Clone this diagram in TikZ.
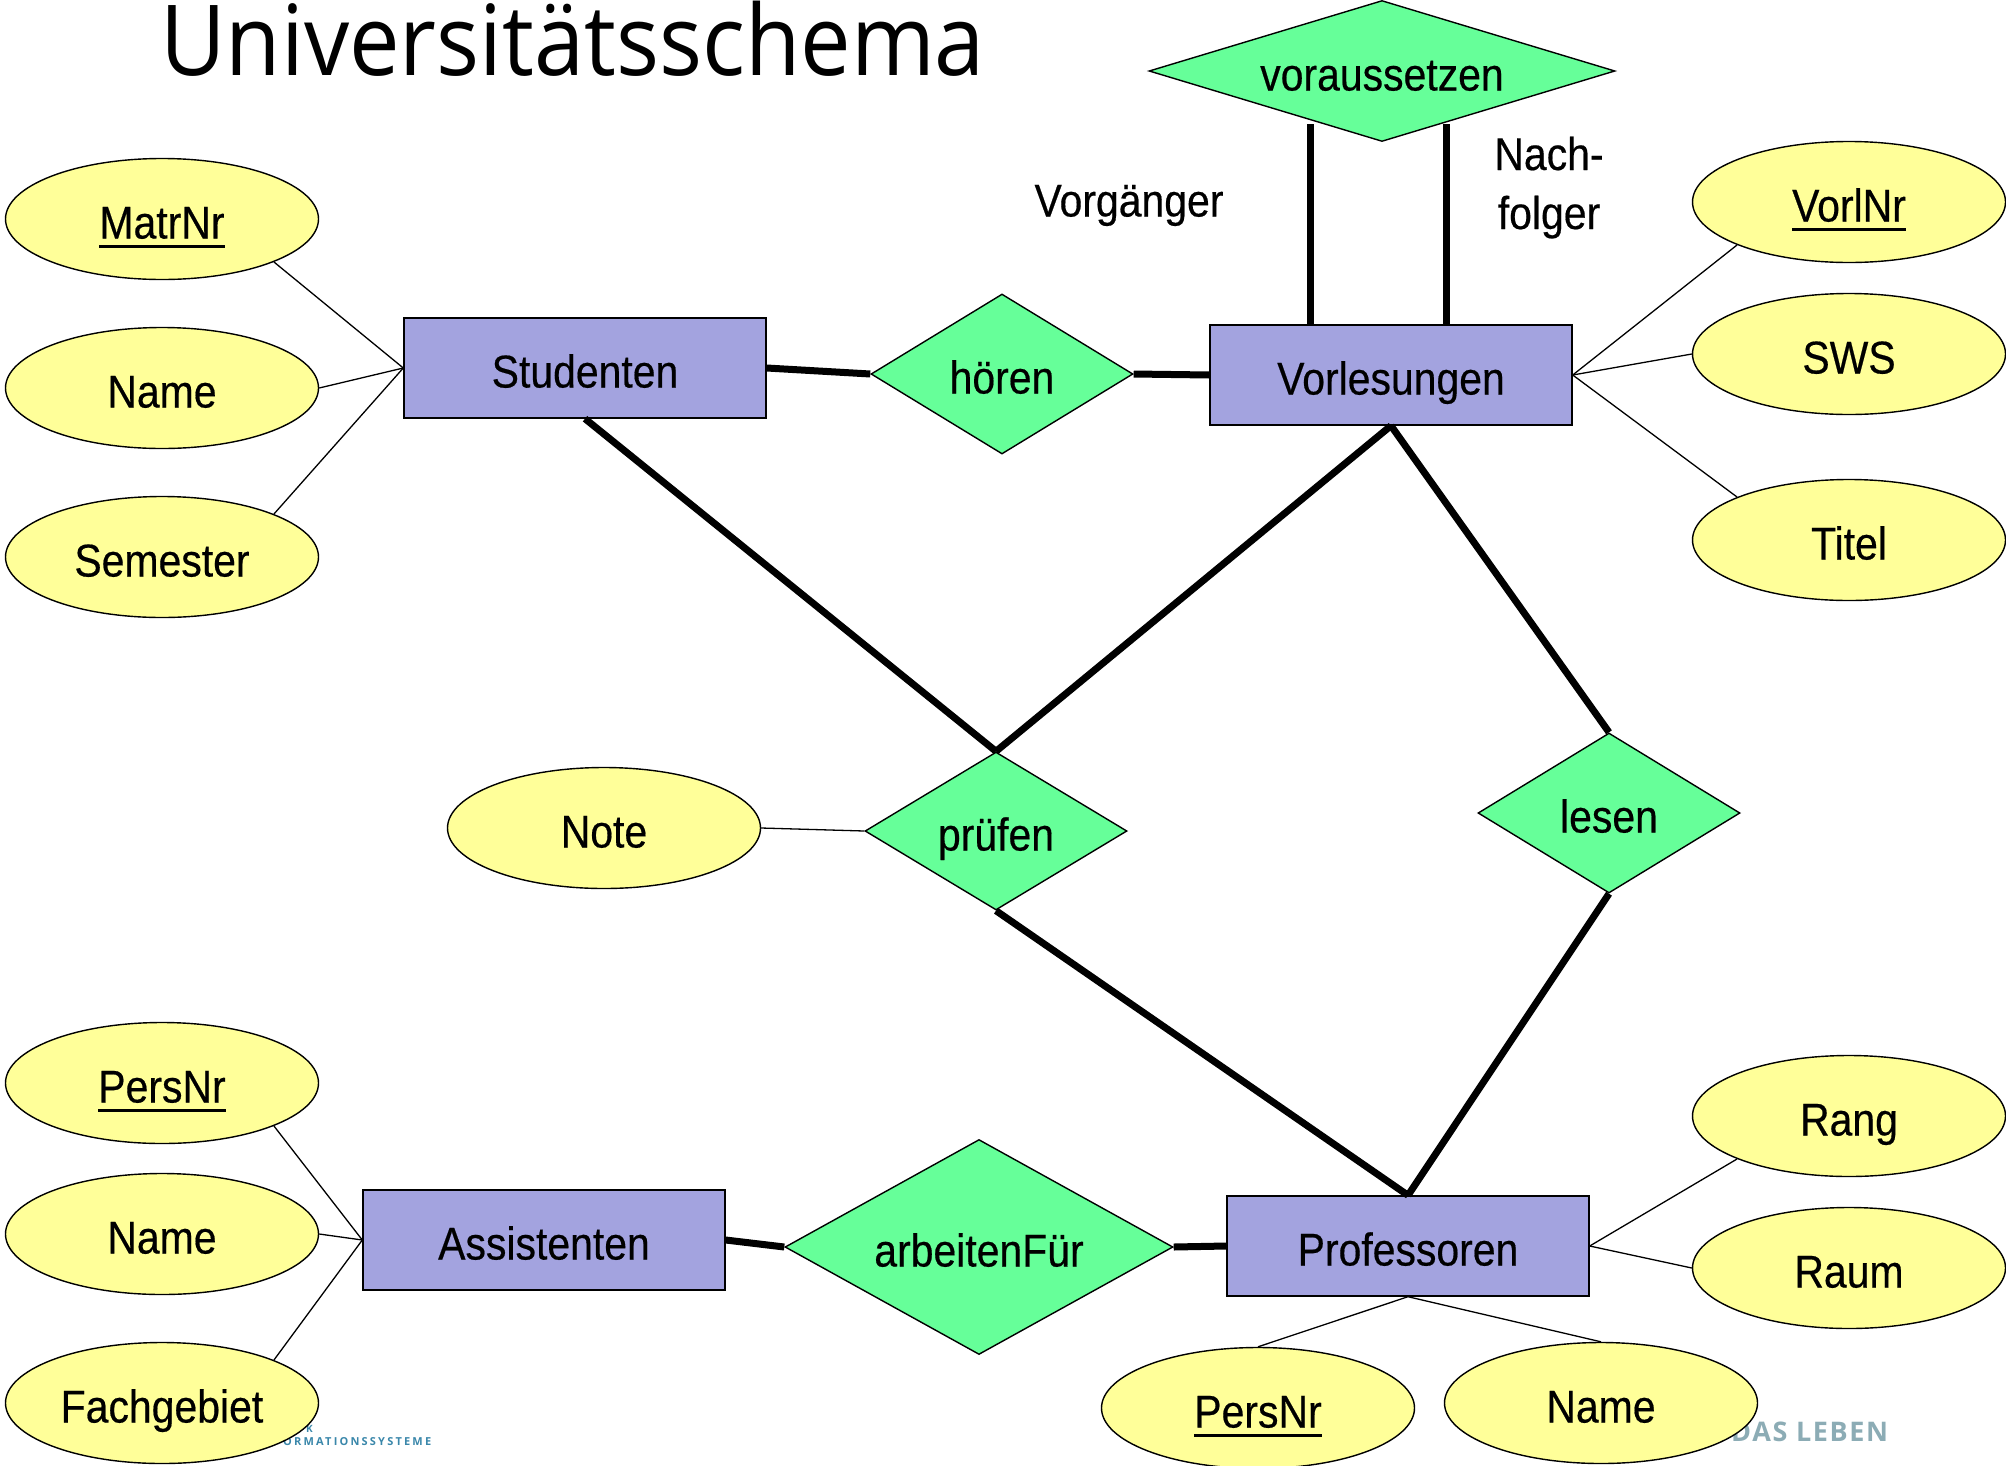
\documentclass[tikz,border=0pt]{standalone}
\usepackage{fontspec}
\setmainfont{Liberation Sans}
\newfontfamily\erfont[FakeStretch=0.89,FakeBold=0.4]{Liberation Sans}
\newfontfamily\titlefont[FakeStretch=0.92]{Open Sans}
\newfontfamily\wmfontA[LetterSpace=20]{Open Sans}
\newfontfamily\wmfontB[LetterSpace=6]{Open Sans}
\usetikzlibrary{shapes.geometric}
\definecolor{attrY}{RGB}{255,255,153}
\definecolor{entB}{RGB}{163,163,223}
\definecolor{relG}{RGB}{102,255,153}
\definecolor{wmBlue}{RGB}{58,135,170}
\definecolor{wmGray}{RGB}{140,172,181}
\newcommand\keyattr[1]{\setbox0\hbox{#1}\rlap{\rule[-9pt]{\wd0}{2.5pt}}\box0}
\tikzset{
  ertext/.style={font=\erfont\fontsize{46}{50}\selectfont, text height=39pt, text depth=0pt, inner sep=0pt},
  attr/.style={ertext, ellipse, draw, line width=1.4pt, fill=attrY, minimum width=313pt, minimum height=121pt},
  entity/.style={ertext, rectangle, draw, line width=1.4pt, fill=entB, minimum width=362pt, minimum height=100pt},
  rel/.style={ertext, diamond, draw, line width=1.4pt, fill=relG, minimum width=262pt, minimum height=160pt, aspect=1.64},
  thinline/.style={line width=1.3pt},
  thickline/.style={line width=7pt},
}
\begin{document}
\begin{tikzpicture}[x=1pt,y=-1pt]
\useasboundingbox (0,0) rectangle (2006,1465);
% watermark fragments
\node[anchor=base west, inner sep=0pt, text=wmBlue, font=\wmfontA\bfseries\fontsize{10}{12}\selectfont] (wmK) at (306,1432) {K};
\node[anchor=base west, inner sep=0pt, text=wmBlue, font=\wmfontA\bfseries\fontsize{11}{12}\selectfont] (wmIS) at (283,1445) {ORMATIONSSYSTEME};
\node[anchor=base west, inner sep=0pt, text=wmGray, font=\wmfontB\bfseries\fontsize{27}{30}\selectfont] (wmDL) at (1731,1441) {DAS LEBEN};
% title
\node[anchor=base west, inner sep=0pt, font=\titlefont\fontsize{98}{100}\selectfont] (title) at (160,75) {Universitätsschema};
% entities
\node[entity] (stud) at (585,368) {Studenten};
\node[entity] (vorl) at (1391,375) {Vorlesungen};
\node[entity] (assist) at (544,1240) {Assistenten};
\node[entity] (prof) at (1408,1246) {Professoren};
% relationships
\node[rel] (hoeren) at (1002,374) {hören};
\node[rel, minimum width=466pt, minimum height=141pt, aspect=3.3] (vor) at (1382,71) {voraussetzen};
\node[rel, minimum height=158pt] (pruef) at (996,831) {prüfen};
\node[rel] (lesen) at (1609,813) {lesen};
\node[rel, minimum width=388pt, minimum height=215pt, aspect=1.8] (arbeit) at (979,1247) {arbeitenFür};
% attributes
\node[attr] (matr) at (162,219) {\keyattr{MatrNr}};
\node[attr] (nameS) at (162,388) {Name};
\node[attr] (sem) at (162,557) {Semester};
\node[attr] (vorlnr) at (1849,202) {\keyattr{VorlNr}};
\node[attr] (sws) at (1849,354) {SWS};
\node[attr] (titel) at (1849,540) {Titel};
\node[attr] (note) at (604,828) {Note};
\node[attr] (persA) at (162,1083) {\keyattr{PersNr}};
\node[attr] (nameA) at (162,1234) {Name};
\node[attr] (fach) at (162,1403) {Fachgebiet};
\node[attr] (rang) at (1849,1116) {Rang};
\node[attr] (raum) at (1849,1268) {Raum};
\node[attr] (persP) at (1258,1408) {\keyattr{PersNr}};
\node[attr] (nameP) at (1601,1403) {Name};
% role labels
\node[ertext] (vg) at (1129,197) {Vorgänger};
\node[ertext, anchor=base] (nach) at (1549,170) {Nach-};
\node[ertext, anchor=base] (folger) at (1549,229) {folger};
% thin connectors
\draw[thinline] (matr.-21) -- (stud.west);
\draw[thinline] (nameS.east) -- (stud.west);
\draw[thinline] (sem.21) -- (stud.west);
\draw[thinline] (vorl.east) -- (vorlnr.201);
\draw[thinline] (vorl.east) -- (sws.west);
\draw[thinline] (vorl.east) -- (titel.159);
\draw[thinline] (note.east) -- (pruef.west);
\draw[thinline] (persA.-21) -- (assist.west);
\draw[thinline] (nameA.east) -- (assist.west);
\draw[thinline] (fach.21) -- (assist.west);
\draw[thinline] (prof.east) -- (rang.201);
\draw[thinline] (prof.east) -- (raum.west);
\draw[thinline] (prof.south) -- (persP.north);
\draw[thinline] (prof.south) -- (nameP.north);
% thick connectors
\draw[thickline] (stud.east) -- (hoeren.west);
\draw[thickline] (hoeren.east) -- (vorl.west);
\draw[thickline] (stud.south) -- (pruef.north);
\draw[thickline] (vorl.south) -- (pruef.north);
\draw[thickline] (vorl.south) -- (lesen.north);
\draw[thickline] (pruef.south) -- (prof.north);
\draw[thickline] (lesen.south) -- (prof.north);
\draw[thickline] (assist.east) -- (arbeit.west);
\draw[thickline] (arbeit.east) -- (prof.west);
\coordinate (vA) at (1310,124);
\coordinate (vB) at (1446,124);
\draw[thickline] (vA) -- (vA |- vorl.north);
\draw[thickline] (vB) -- (vB |- vorl.north);
\end{tikzpicture}
\end{document}
